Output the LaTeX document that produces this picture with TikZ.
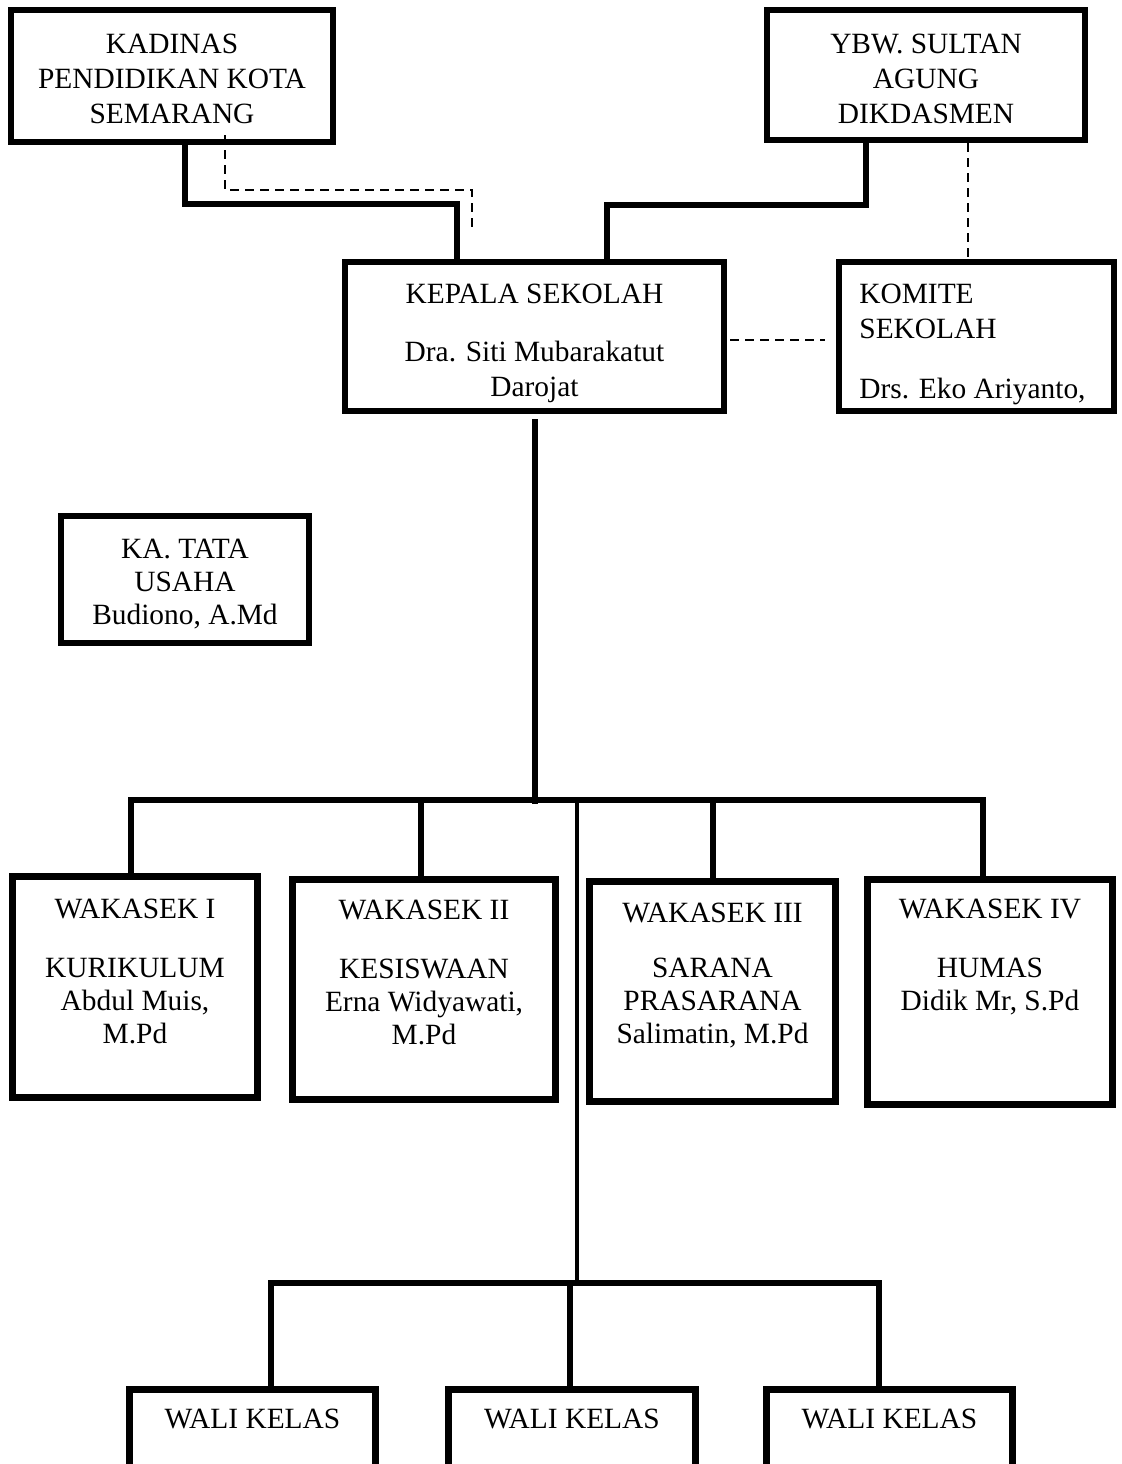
\documentclass[tikz,border=0pt]{standalone}
\usepackage{fontspec}
\setmainfont{Liberation Serif}
\tikzset{box/.style={draw,rectangle,line width=3pt,inner sep=0pt},
	wbox/.style={draw,rectangle,line width=3.5pt,inner sep=0pt},
	txt/.style={inner sep=0pt,anchor=north,align=center,font=\fontsize{14.7}{17.5}\selectfont},
	stxt/.style={txt,font=\fontsize{14.7}{16.5}\selectfont},
	link/.style={line width=3pt},
	thinlink/.style={line width=2.3pt},
	dlink/.style={line width=1.2pt,dash pattern=on 4.5pt off 3pt}}

\begin{document}
\begin{tikzpicture}[x=0.5pt,y=0.5pt]
	\useasboundingbox (0,0) rectangle (1121,-1464);
	% atas
	\node[box,minimum width=161pt,minimum height=66pt] (kadinas) at (172,-76) {};
	\node[box,minimum width=159pt,minimum height=65pt] (ybw) at (926,-75) {};
	\node[box,minimum width=189.5pt,minimum height=74.5pt] (kepala) at (534.5,-336.5) {};
	\node[box,minimum width=137.5pt,minimum height=74.5pt] (komite) at (976.5,-336.5) {};
	\node[box,minimum width=124pt,minimum height=63.5pt] (tata) at (185,-579.5) {};
	\node[txt] (kadinast) at ([yshift=-13.5pt]kadinas.north) {KADINAS\\PENDIDIKAN KOTA\\SEMARANG};
	\node[txt] (ybwt) at ([yshift=-13.5pt]ybw.north) {YBW. SULTAN\\AGUNG\\DIKDASMEN};
	\node[txt] (kepalat) at ([yshift=-12.5pt]kepala.north) {KEPALA SEKOLAH\\[11.5pt]Dra. Siti Mubarakatut\\Darojat};
	\node[txt,anchor=north west,align=left] (komitet) at ([xshift=11.5pt,yshift=-12.5pt]komite.north west) {KOMITE\\SEKOLAH\\[12.5pt]Drs. Eko Ariyanto,};
	\node[stxt] (tatat) at ([yshift=-13pt]tata.north) {KA. TATA\\USAHA\\Budiono, A.Md};
	\draw[link] ([xshift=6.5pt]kadinas.south) -- ++(0,-59) -| ([xshift=-38.75pt]kepala.north);
	\draw[dlink] ([xshift=26.5pt,yshift=5pt]kadinas.south) -- ++(0,-55) -| ([xshift=-31.25pt,yshift=14.5pt]kepala.north);
	\draw[link] ([xshift=-30pt]ybw.south) -- ++(0,-62) -| ([xshift=36.25pt]kepala.north);
	\draw[dlink] ([xshift=21pt]ybw.south) -- ++(0,-122);
	\draw[dlink,shorten <=1.5pt,shorten >=5.5pt] ([yshift=-1.75pt]kepala.east) -- ([yshift=-1.75pt]komite.west);
	% wakasek
	\node[wbox,minimum width=122.5pt,minimum height=110.5pt] (wk1) at (135,-987) {};
	\node[wbox,minimum width=131.5pt,minimum height=110pt] (wk2) at (424,-989.5) {};
	\node[wbox,minimum width=123pt,minimum height=110pt] (wk3) at (712.5,-991.5) {};
	\node[wbox,minimum width=122.5pt,minimum height=112.5pt] (wk4) at (990,-992) {};
	\node[stxt] (wk1t) at ([yshift=-12.75pt]wk1.north) {WAKASEK I\\[13pt]KURIKULUM\\Abdul Muis,\\M.Pd};
	\node[stxt] (wk2t) at ([yshift=-11.75pt]wk2.north) {WAKASEK II\\[13pt]KESISWAAN\\Erna Widyawati,\\M.Pd};
	\node[stxt] (wk3t) at ([yshift=-12.25pt]wk3.north) {WAKASEK III\\[11pt]SARANA\\PRASARANA\\Salimatin, M.Pd};
	\node[stxt] (wk4t) at ([yshift=-11.25pt]wk4.north) {WAKASEK IV\\[13pt]HUMAS\\Didik Mr, S.Pd};
	\coordinate (wbus) at (534.5,-800);
	\draw[link] ([yshift=-2.5pt]kepala.south) -- ([yshift=-2pt]wbus);
	\draw[link] ([xshift=-2pt]wk1.north) |- (wbus) -| ([xshift=-3.5pt]wk4.north);
	\draw[link] ([xshift=-1.5pt]wk2.north) |- (wbus);
	\draw[link] (wk3.north) |- (wbus);
	% wali kelas
	\node[wbox,minimum width=123pt,minimum height=55pt] (wali1) at (252.5,-1444.5) {};
	\node[wbox,minimum width=123.5pt,minimum height=55pt] (wali2) at (572,-1444.5) {};
	\node[wbox,minimum width=123pt,minimum height=55pt] (wali3) at (889.5,-1444.5) {};
	\node[stxt] (wali1t) at ([yshift=-11.25pt]wali1.north) {WALI KELAS};
	\node[stxt] (wali2t) at ([yshift=-11.25pt]wali2.north) {WALI KELAS};
	\node[stxt] (wali3t) at ([yshift=-11.25pt]wali3.north) {WALI KELAS};
	\coordinate (wj) at (577,-800);
	\coordinate (kbus) at (577,-1283);
	\draw[thinlink] (wj) -- (kbus);
	\draw[link] ([xshift=9.25pt]wali1.north) |- (kbus) -| ([xshift=-5.25pt]wali3.north);
	\draw[link] ([xshift=-1pt]wali2.north) |- (kbus);
\end{tikzpicture}
\end{document}
